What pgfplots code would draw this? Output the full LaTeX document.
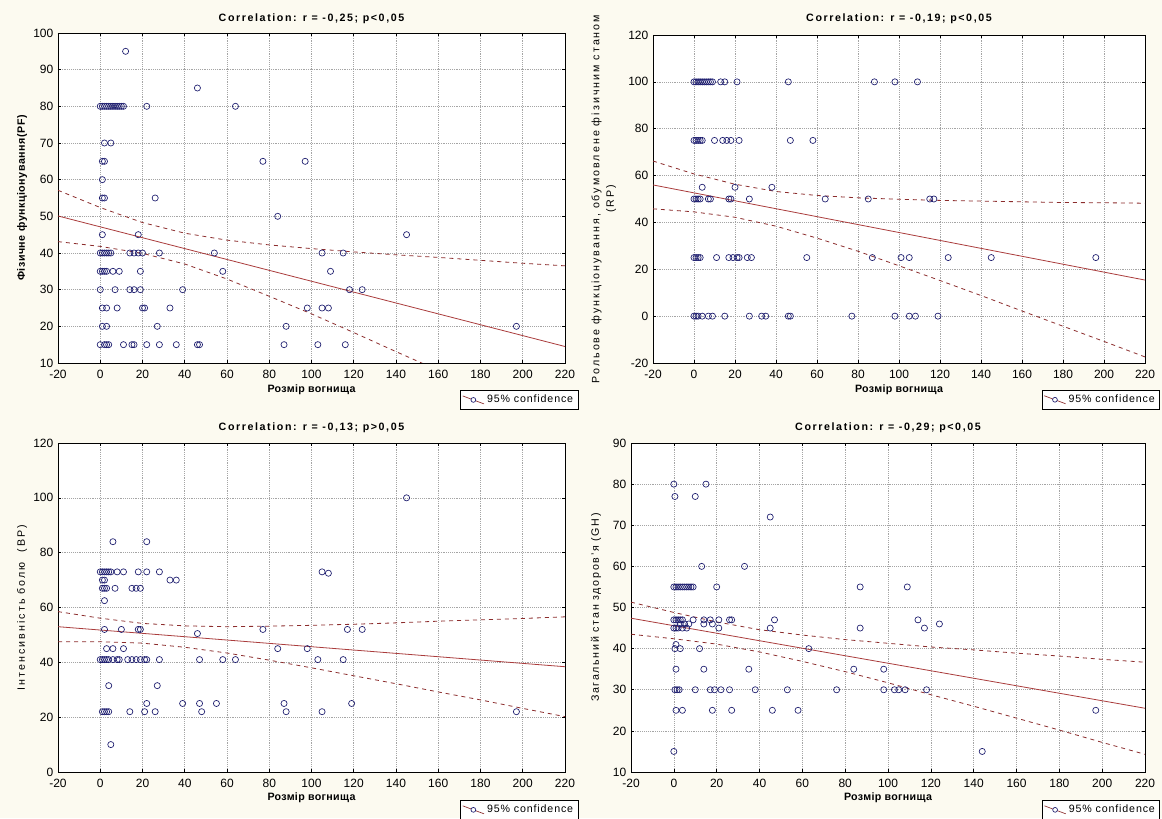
\documentclass[border=0pt]{standalone}
\usepackage{fontspec}
\setmainfont{Liberation Sans}
\usepackage{pgfplots}
\pgfplotsset{compat=1.18}
\definecolor{bg}{RGB}{252,250,240}
\definecolor{navy}{RGB}{28,28,110}
\definecolor{regred}{RGB}{170,60,60}
\definecolor{bandc}{RGB}{140,45,45}
\definecolor{gridc}{RGB}{165,165,165}
\pgfplotsset{
  panel/.style={
    scale only axis,
    axis background/.style={fill=white},
    axis line style={black, line width=0.6pt},
    xmin=-20, xmax=220, xtick={-20,0,...,220},
    grid=major,
    major grid style={gridc, densely dotted, line width=0.4pt},
    tick align=inside, tick pos=both, major tick length=2.5pt,
    tick style={black, line width=0.5pt},
    /pgf/number format/assume math mode=true,
    tick label style={font=\fontsize{9}{10}\selectfont},
    xticklabel style={yshift=-1.5pt},
    title style={font=\bfseries\fontsize{8}{9}\selectfont\addfontfeatures{LetterSpace=15}, anchor=center, yshift=-6pt},
    xlabel style={font=\bfseries\fontsize{8}{9}\selectfont\addfontfeatures{LetterSpace=3}, anchor=center},
    ylabel style={anchor=center, align=center},
    xlabel={Розмір вогнища},
    legend style={draw=black, line width=0.5pt, fill=white, anchor=north east,
      font=\fontsize{8}{9}\selectfont\addfontfeatures{LetterSpace=8}, inner sep=1.5pt, cells={anchor=west}},
  },
  scat/.style={only marks, mark=o, mark size=2.3pt, mark options={navy, line width=0.5pt},
    legend image code/.code={\draw[bandc, line width=0.5pt] (0pt,3pt) -- (16pt,-3pt);
      \draw[navy, line width=0.5pt, fill=white] (8pt,0pt) circle (1.8pt);}},
  reg/.style={regred, line width=0.6pt, no marks, forget plot},
  band/.style={bandc, dashed, line width=0.6pt, no marks, forget plot},
}
\begin{document}
\begin{tikzpicture}[x=0.75pt,y=0.75pt]
\fill[bg] (0,0) rectangle (1162,818);
\path[use as bounding box] (0,0) rectangle (1162,818);

% ---------- Panel 1 ----------
\begin{axis}[panel, at={(43.5pt,341.25pt)}, anchor=south west,
  width=380.25pt, height=247.5pt, ymin=10, ymax=100, ytick={10,20,...,100},
  title={Correlation: r = -0,25; p<0,05},
  title style={at={(axis description cs:0.5,1.042)}},
  xlabel style={at={(axis description cs:0.5,-0.082)}},
  ylabel={Фізичне функціонування(PF)},
  ylabel style={at={(axis description cs:-0.071,0.5)}, font=\bfseries\fontsize{8}{9}\selectfont\addfontfeatures{LetterSpace=5}},
  legend style={at={(axis description cs:1.026,-0.082)}}]
\addplot[scat] coordinates {
(12,95)(46,85)
(0,80)(1,80)(2,80)(3,80)(4,80)(5,80)(6,80)(7,80)(8,80)(9,80)(10,80)(11,80)(22,80)(64,80)
(2,70)(5,70)(1,65)(2,65)(77,65)(97,65)(1,60)(1,55)(2,55)(26,55)(84,50)
(1,45)(18,45)(145,45)
(0,40)(1,40)(2,40)(3,40)(4,40)(5,40)(14,40)(16,40)(18,40)(20,40)(28,40)(54,40)(105,40)(115,40)
(0,35)(1,35)(2,35)(3,35)(6,35)(9,35)(19,35)(58,35)(109,35)
(0,30)(7,30)(14,30)(16,30)(19,30)(39,30)(118,30)(124,30)
(1,25)(3,25)(8,25)(20,25)(21,25)(33,25)(98,25)(105,25)(108,25)
(1,20)(3,20)(27,20)(88,20)(197,20)
(0,15)(2,15)(3,15)(4,15)(11,15)(15,15)(16,15)(22,15)(28,15)(36,15)(46,15)(47,15)(87,15)(103,15)(116,15)
};
\addlegendentry{95\% confidence}
\addplot[reg] coordinates {(-20,50.1)(220,14.5)};
\addplot[band] coordinates {(-20,57.1)(0,52.4)(20,48.3)(40,45.4)(60,43.5)(80,42.2)(100,41.2)(120,40.3)(140,39.5)(160,38.8)(180,38.0)(200,37.2)(220,36.5)};
\addplot[band] coordinates {(-20,43.1)(0,41.8)(20,39.9)(40,37.0)(60,32.9)(80,28.2)(100,23.4)(120,18.3)(140,13.1)(160,8.0)(180,2.8)(200,-2.4)(220,-7.5)};
\end{axis}

% ---------- Panel 2 ----------
\begin{axis}[panel, at={(489.75pt,341.25pt)}, anchor=south west,
  width=369pt, height=246pt, ymin=-20, ymax=120, ytick={-20,0,...,120},
  title={Correlation: r = -0,19; p<0,05},
  title style={at={(axis description cs:0.5,1.049)}},
  xlabel style={at={(axis description cs:0.5,-0.082)}},
  ylabel={Рольове функціонування, обумовлене фізичним станом\\(RP)},
  ylabel style={at={(axis description cs:-0.1,0.5)}, font=\fontsize{8}{11}\selectfont\addfontfeatures{LetterSpace=19}},
  legend style={at={(axis description cs:1.03,-0.082)}}]
\addplot[scat] coordinates {
(0,100)(1,100)(2,100)(3,100)(4,100)(5,100)(6,100)(7,100)(8,100)(9,100)(13,100)(15,100)(21,100)(46,100)(88,100)(98,100)(109,100)
(0,75)(1,75)(2,75)(3,75)(4,75)(10,75)(14,75)(16,75)(18,75)(22,75)(47,75)(58,75)
(4,55)(20,55)(38,55)
(0,50)(1,50)(2,50)(3,50)(7,50)(8,50)(17,50)(18,50)(27,50)(64,50)(85,50)(115,50)(117,50)
(0,25)(1,25)(2,25)(3,25)(11,25)(17,25)(19,25)(21,25)(22,25)(26,25)(28,25)(55,25)(87,25)(101,25)(105,25)(124,25)(145,25)(196,25)
(0,0)(1,0)(2,0)(4,0)(7,0)(9,0)(15,0)(27,0)(33,0)(35,0)(46,0)(47,0)(77,0)(98,0)(105,0)(108,0)(119,0)
};
\addlegendentry{95\% confidence}
\addplot[reg] coordinates {(-20,56.0)(220,15.4)};
\addplot[band] coordinates {(-20,66.2)(0,60.7)(20,56.3)(40,53.2)(60,51.5)(80,50.5)(100,49.9)(120,49.4)(140,49.1)(160,48.8)(180,48.5)(200,48.4)(220,48.2)};
\addplot[band] coordinates {(-20,45.8)(0,44.5)(20,42.2)(40,38.4)(60,33.3)(80,27.7)(100,21.5)(120,15.2)(140,8.8)(160,2.2)(180,-4.3)(200,-10.8)(220,-17.4)};
\end{axis}

% ---------- Panel 3 ----------
\begin{axis}[panel, at={(43.5pt,34.5pt)}, anchor=south west,
  width=380.25pt, height=246.75pt, ymin=0, ymax=120, ytick={0,20,...,120},
  title={Correlation: r = -0,13; p>0,05},
  title style={at={(axis description cs:0.5,1.046)}},
  xlabel style={at={(axis description cs:0.5,-0.079)}},
  ylabel={Інтенсивність болю\ \ (BP)},
  ylabel style={at={(axis description cs:-0.071,0.5)}, font=\fontsize{8}{9}\selectfont\addfontfeatures{LetterSpace=19}},
  legend style={at={(axis description cs:1.026,-0.085)}}]
\addplot[scat] coordinates {
(145,100)(6,84)(22,84)
(0,73)(1,73)(2,73)(3,73)(4,73)(5,73)(8,73)(11,73)(18,73)(22,73)(28,73)(105,73)(108,72.5)
(1,70)(2,70)(33,70)(36,70)
(1,67)(2,67)(3,67)(7,67)(15,67)(17,67)(19,67)
(2,62.5)
(2,52)(10,52)(18,52)(19,52)(77,52)(117,52)(124,52)
(46,50.5)
(3,45)(6,45)(11,45)(84,45)(98,45)
(0,41)(1,41)(2,41)(3,41)(4,41)(6,41)(8,41)(9,41)(13,41)(15,41)(17,41)(19,41)(21,41)(22,41)(28,41)(47,41)(58,41)(64,41)(103,41)(115,41)
(4,31.5)(27,31.5)
(22,25)(39,25)(47,25)(55,25)(87,25)(119,25)
(1,22)(2,22)(3,22)(4,22)(14,22)(21,22)(26,22)(48,22)(88,22)(105,22)(197,22)
(5,10)
};
\addlegendentry{95\% confidence}
\addplot[reg] coordinates {(-20,53.0)(220,38.4)};
\addplot[band] coordinates {(-20,58.5)(0,56.1)(20,54.2)(40,53.3)(60,53.0)(80,53.2)(100,53.5)(120,53.9)(140,54.4)(160,55.0)(180,55.5)(200,56.0)(220,56.6)};
\addplot[band] coordinates {(-20,47.5)(0,47.5)(20,47.0)(40,45.5)(60,43.4)(80,40.8)(100,38.0)(120,35.1)(140,32.2)(160,29.2)(180,26.3)(200,23.2)(220,20.2)};
\end{axis}

% ---------- Panel 4 ----------
\begin{axis}[panel, at={(473.25pt,34.5pt)}, anchor=south west,
  width=385.5pt, height=246.75pt, ymin=10, ymax=90, ytick={10,20,...,90},
  title={Correlation: r = -0,29; p<0,05},
  title style={at={(axis description cs:0.5,1.046)}},
  xlabel style={at={(axis description cs:0.5,-0.079)}},
  ylabel={Загальний стан здоров'я (GH)},
  ylabel style={at={(axis description cs:-0.068,0.5)}, font=\fontsize{8}{9}\selectfont\addfontfeatures{LetterSpace=16}},
  legend style={at={(axis description cs:1.029,-0.085)}}]
\addplot[scat] coordinates {
(0,80)(15,80)(0.5,77)(10,77)(45,72)(13,60)(33,60)
(0,55)(1,55)(2,55)(3,55)(4,55)(5,55)(6,55)(7,55)(8,55)(9,55)(20,55)(87,55)(109,55)
(0,47)(1,47)(2,47)(3,47)(4,47)(9,47)(14,47)(17,47)(21,47)(26,47)(27,47)(47,47)(114,47)
(124,46)(3,46)(5,46)(7,46)(14,46)(18,46)
(0,45)(1,45)(2,45)(4,45)(6,45)(21,45)(45,45)(87,45)(117,45)
(1,41)(0.5,40)(3,40)(12,40)(63,40)
(1,35)(14,35)(35,35)(84,35)(98,35)
(0.5,30)(1.5,30)(2.5,30)(10,30)(17,30)(19,30)(22,30)(26,30)(38,30)(53,30)(76,30)(98,30)(103,30)(105,30)(108,30)(118,30)
(1,25)(4,25)(18,25)(27,25)(46,25)(58,25)(197,25)
(0,15)(144,15)
};
\addlegendentry{95\% confidence}
\addplot[reg] coordinates {(-20,47.4)(220,25.5)};
\addplot[band] coordinates {(-20,51.3)(0,48.8)(20,46.5)(40,44.6)(60,43.3)(80,42.2)(100,41.3)(120,40.4)(140,39.7)(160,38.9)(180,38.2)(200,37.4)(220,36.7)};
\addplot[band] coordinates {(-20,43.5)(0,42.4)(20,41.1)(40,39.2)(60,36.9)(80,34.4)(100,31.7)(120,28.8)(140,26.0)(160,23.1)(180,20.2)(200,17.2)(220,14.3)};
\end{axis}
\end{tikzpicture}
\end{document}
